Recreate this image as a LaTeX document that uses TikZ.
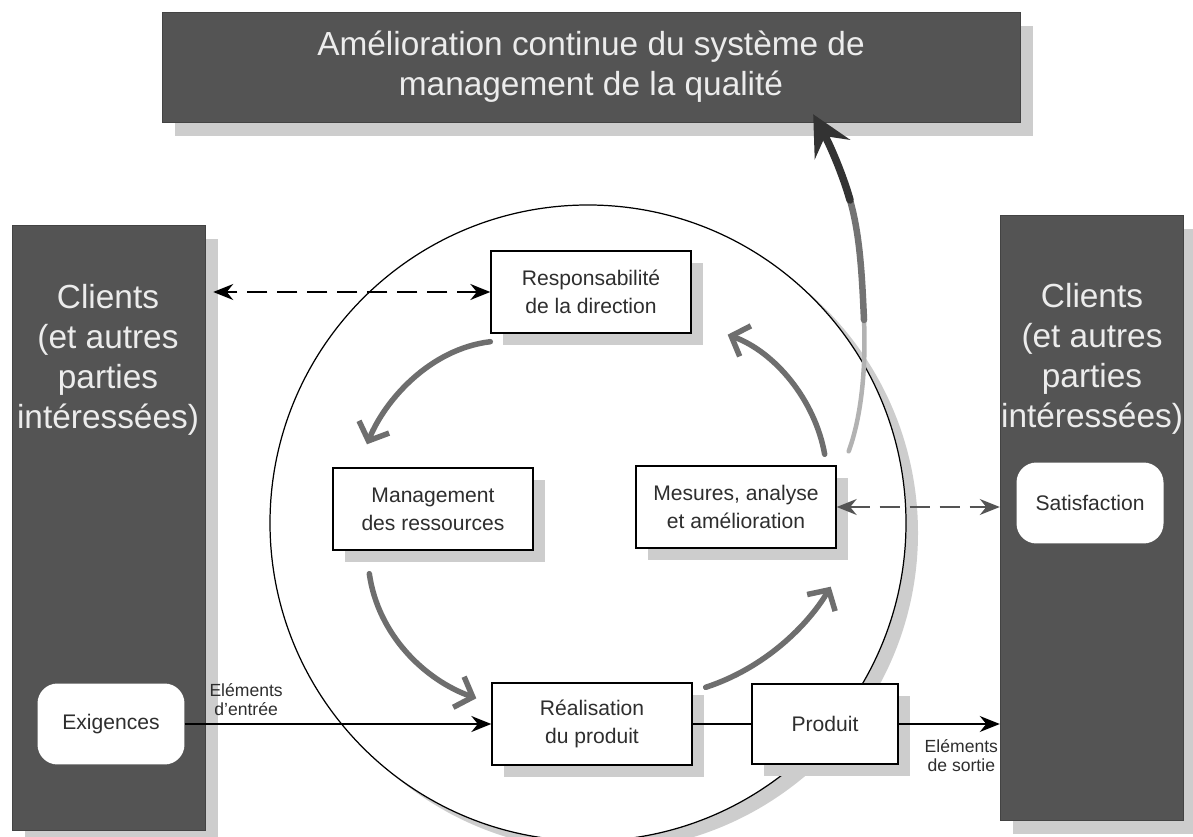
\documentclass[tikz,border=0pt]{standalone}
\usepackage{fontspec}
\setmainfont{Liberation Sans}
\usetikzlibrary{arrows.meta,positioning,calc,shadows}
\definecolor{slate}{HTML}{545454}
\definecolor{haze}{HTML}{CDCDCD}
\definecolor{ink}{HTML}{2E2E2E}
\definecolor{swirl}{HTML}{6E6E6E}
\definecolor{pale}{HTML}{ECECEC}
\tikzset{band/.style={fill=slate,draw=slate!80!black,line width=.3pt,inner sep=0pt,drop shadow={fill=haze,opacity=1,shadow xshift=2.6mm,shadow yshift=-2.8mm}},big/.style={text=pale,align=center,font=\fontsize{19}{22.8}\selectfont},pbox/.style={draw=black,line width=.8pt,fill=white,minimum width=4cm,minimum height=1.64cm,align=center,font=\fontsize{12}{16}\selectfont,text=ink,drop shadow={fill=haze,opacity=1,shadow xshift=2.4mm,shadow yshift=-2.4mm}},soft/.style={fill=white,rounded corners=4mm,minimum width=2.94cm,minimum height=1.62cm,align=center,font=\fontsize{12}{16}\selectfont,text=ink},flow/.style={-{Stealth[length=4mm,width=3.2mm]},line width=.8pt},dashflow/.style={{Stealth[length=4mm,width=3.2mm]}-{Stealth[length=4mm,width=3.2mm]},dash pattern=on 4mm off 2mm,line width=.8pt},turn/.style={draw=swirl,line width=1.1mm,line cap=round,-{Straight Barb[length=3mm,width=6.5mm]}},tag/.style={font=\fontsize{10}{10.8}\selectfont,align=center,inner sep=1.5pt,text=ink}}
\begin{document}
\begin{tikzpicture}[x=.02cm,y=-.02cm]
\clip (0,0) rectangle (1193,837);
\node[band,big,minimum width=17.16cm,minimum height=2.2cm](top) at (591,67){Amélioration continue du système de\\management de la qualité};
\node[band,minimum width=3.86cm,minimum height=12.1cm](colL) at (108.5,527.5){};
\node[band,minimum width=3.66cm,minimum height=12.1cm](colR) at (1091.5,517.5){};
\node[big](cliL) at (108,360){Clients\\(et autres\\parties\\intéressées)};
\node[big](cliR) at (1092,359){Clients\\(et autres\\parties\\intéressées)};
\node[soft](exig) at (111,724){Exigences};
\node[soft](satis) at (1090,503){Satisfaction};
% le cercle et son ombre
\fill[haze] (600,533) circle (318);
\draw[line width=.7pt,fill=white] (588,523) circle (318);
\foreach \n/\x/\y/\t in {resp/591/292/{Responsabilité\\de la direction},mgmt/433/509/{Management\\des ressources},mes/736/507/{Mesures, analyse\\et amélioration},real/592/724/{Réalisation\\du produit}}{\node[pbox](\n) at (\x,\y){\t};}
\node[pbox,minimum width=2.92cm,minimum height=1.6cm](prod) at (825,724){Produit};
\draw[flow](exig.east) -- node[tag,pos=.2,above=1mm]{Eléments\\d’entrée} (real.west);
\draw[line width=.8pt](real) -- (prod);
\draw[flow](prod.east) -- node[tag,pos=.62,below=2.4mm]{Eléments\\de sortie} (prod.east -| colR.west);
\draw[dashflow,shorten >=1.6mm](resp.west) -- (resp.west -| colL.east);
\draw[dashflow,draw=slate](mes.east) -- (mes.east -| colR.west);
% fleches du cycle
\draw[turn]([shift={(0,8)}]resp.south west) .. controls (430,349) and (385,400) .. ([shift={(-66,-23)}]mgmt.north);
\draw[turn]([shift={(37,23)}]mgmt.south west) .. controls (378,635) and (425,680) .. ([shift={(-15,16)}]real.north west);
\draw[turn]([shift={(13,5)}]real.north east) .. controls (765,668) and (808,625) .. ([shift={(-6,38)}]mes.south east);
\draw[turn]([shift={(-12,-11)}]mes.north east) .. controls (815,400) and (775,352) .. ([shift={(36,1)}]resp.south east);
% amelioration continue
\coordinate (bendA) at (864,320);
\coordinate (bendB) at (850,200);
\draw[black!30,line width=.9mm,line cap=round]([shift={(12,-14)}]mes.north east) .. controls (862,415) and (866,365) .. (bendA);
\draw[black!55,line width=1.3mm,line cap=round](bendA) .. controls (862,275) and (860,235) .. (bendB);
\draw[black!80,line width=1.5mm,line cap=round,-{Stealth[length=8mm,width=8mm,inset=3mm]}](bendB) .. controls (843,175) and (830,145) .. ([shift={(-207,-8)}]top.south east);
\end{tikzpicture}
\end{document}
